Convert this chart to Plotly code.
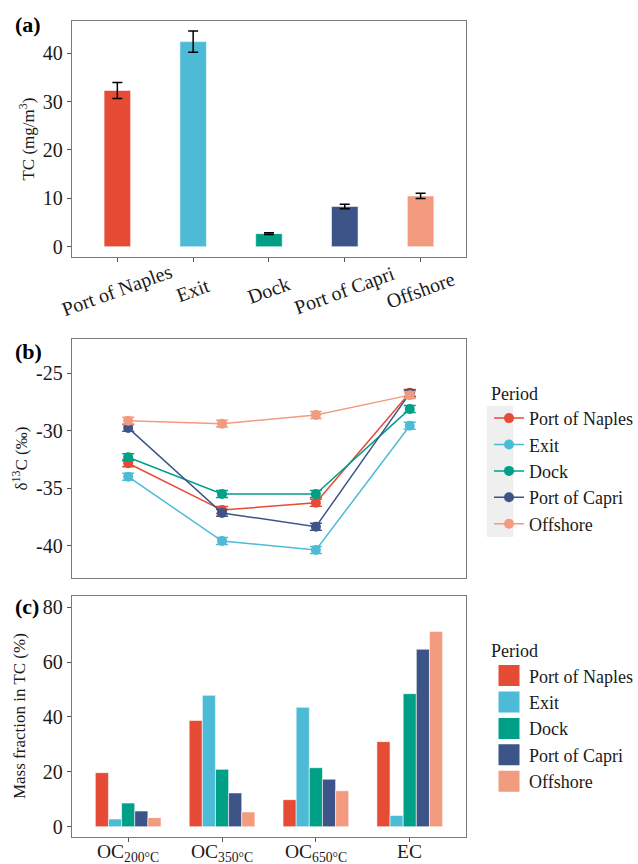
import plotly.graph_objects as go

# ---------------- data ----------------
stations = ["Port of Naples", "Exit", "Dock", "Port of Capri", "Offshore"]
tc_values = [32.3, 42.4, 2.7, 8.3, 10.5]
tc_errors = [1.65, 2.2, 0.2, 0.45, 0.55]

fractions = ["OC<sub>200°C</sub>", "OC<sub>350°C</sub>", "OC<sub>650°C</sub>", "EC"]

d13c_naples = [-32.83, -36.9, -36.26, -26.7]
d13c_exit = [-34.0, -39.6, -40.38, -29.56]
d13c_dock = [-32.3, -35.5, -35.5, -28.1]
d13c_capri = [-29.75, -37.15, -38.35, -26.75]
d13c_offshore = [-29.12, -29.38, -28.63, -26.9]
d13c_error = 0.3

mf_naples = [19.7, 38.7, 9.85, 31.0]
mf_exit = [2.8, 47.9, 43.5, 4.1]
mf_dock = [8.6, 20.9, 21.5, 48.5]
mf_capri = [5.7, 12.3, 17.3, 64.7]
mf_offshore = [3.3, 5.35, 13.1, 71.2]

colors = ["#E64B35", "#4DBBD5", "#00A087", "#3C5488", "#F39B7F"]

tc_ticks = [0, 10, 20, 30, 40]
d13c_ticks = [-25, -30, -35, -40]
d13c_ticktext = ["-25", "-30", "-35", "-40"]
mf_ticks = [0, 20, 40, 60, 80]

# ---------------- figure ----------------
W, H = 638, 864
FONT = "Liberation Serif"
fig = go.Figure()

def px_x(v):
    return v / W

def px_y(v):
    return 1 - v / H

# (a) bars
fig.add_trace(go.Bar(
    x=stations, y=tc_values, width=0.35,
    marker=dict(color=colors, line=dict(color="rgba(255,255,255,0.7)", width=0.8)),
    error_y=dict(type="data", array=tc_errors, color="black", thickness=1.5, width=5),
    xaxis="x", yaxis="y", showlegend=False,
))

# (b) lines
d13c_series = [d13c_naples, d13c_exit, d13c_dock, d13c_capri, d13c_offshore]
for name, vals, c in zip(stations, d13c_series, colors):
    fig.add_trace(go.Scatter(
        x=fractions, y=vals, mode="lines+markers", name=name,
        line=dict(color=c, width=1.5),
        marker=dict(color=c, size=10),
        error_y=dict(type="constant", value=d13c_error, color=c, thickness=1.5, width=6),
        xaxis="x2", yaxis="y2", legend="legend",
    ))

# (c) grouped bars
mf_series = [mf_naples, mf_exit, mf_dock, mf_capri, mf_offshore]
for name, vals, c in zip(stations, mf_series, colors):
    fig.add_trace(go.Bar(
        x=fractions, y=vals, name=name,
        marker=dict(color=c, line=dict(color="rgba(255,255,255,0.7)", width=0.8)),
        xaxis="x3", yaxis="y3", showlegend=False,
    ))
# legend keys for (c)
for name, c in zip(stations, colors):
    fig.add_trace(go.Scatter(
        x=[None], y=[None], mode="markers", name=name,
        marker=dict(symbol="square", size=16, color=c, line=dict(color=c, width=5)),
        xaxis="x3", yaxis="y3", legend="legend2",
    ))

xdom = [px_x(73), px_x(473.5)]
axis_common = dict(
    showline=True, mirror=True, linecolor="#7a7a7a", linewidth=1.2,
    showgrid=False, zeroline=False,
    tickfont=dict(family=FONT, size=20, color="#1a1a1a"),
    ticks="outside", ticklen=4, tickcolor="#555", tickwidth=1,
)
legend_font = dict(family=FONT, size=18, color="#1a1a1a")

fig.update_layout(
    width=W, height=H,
    margin=dict(l=0, r=0, t=0, b=0),
    paper_bgcolor="white", plot_bgcolor="white",
    font=dict(family=FONT, color="#1a1a1a"),
    barmode="group", bargap=0.3, bargroupgap=0,
    xaxis=dict(domain=xdom, anchor="y", type="category", categoryarray=stations,
               range=[-0.6, 4.6], showticklabels=False, **axis_common),
    yaxis=dict(domain=[px_y(256.7), px_y(21.3)], anchor="x", range=[-2.07, 46.6],
               tickvals=tc_ticks, **axis_common),
    xaxis2=dict(domain=xdom, anchor="y2", type="category", categoryarray=fractions,
                range=[-0.6, 3.6], showticklabels=False, **axis_common),
    yaxis2=dict(domain=[px_y(578.3), px_y(339.3)], anchor="x2", range=[-42.84, -22.04],
                tickvals=d13c_ticks, ticktext=d13c_ticktext, **axis_common),
    xaxis3=dict(domain=xdom, anchor="y3", type="category", categoryarray=fractions,
                range=[-0.6, 3.6], showticklabels=False, **axis_common),
    yaxis3=dict(domain=[px_y(836.7), px_y(596)], anchor="x3", range=[-3.65, 84.1],
                tickvals=mf_ticks, **axis_common),
    legend=dict(
        x=px_x(497), y=px_y(376.5), xanchor="left", yanchor="top",
        bgcolor="rgba(0,0,0,0)", font=legend_font,
        title=dict(text="Period", font=legend_font),
        itemsizing="trace",
    ),
    legend2=dict(
        x=px_x(497), y=px_y(634), xanchor="left", yanchor="top",
        bgcolor="rgba(0,0,0,0)", font=legend_font,
        title=dict(text="Period", font=legend_font),
        itemsizing="trace",
    ),
)
fig.update_layout(xaxis2=dict(ticks=""))

# grey background behind legend keys of (b)
fig.add_shape(type="rect", xref="paper", yref="paper",
              x0=px_x(494.5), x1=px_x(521.5), y0=px_y(537), y1=px_y(406),
              fillcolor="#EFEFEF", line=dict(width=0), layer="below")

annotations = []
# rotated station labels for (a)
for s in stations:
    annotations.append(dict(x=s, y=px_y(290), xref="x", yref="paper", text=s,
                            textangle=-20, showarrow=False, xanchor="center", yanchor="middle",
                            font=dict(family=FONT, size=20, color="#1a1a1a")))
# fraction labels for (c)
for f in fractions:
    annotations.append(dict(x=f, y=px_y(839), xref="x3", yref="paper", text=f,
                            showarrow=False, xanchor="center", yanchor="top",
                            font=dict(family=FONT, size=19.5, color="#1a1a1a")))
# panel labels
for lab, xx, yy in [("(a)", 28, 24), ("(b)", 29, 351), ("(c)", 27, 606)]:
    annotations.append(dict(x=px_x(xx), y=px_y(yy), xref="paper", yref="paper",
                            text="<b>" + lab + "</b>", showarrow=False,
                            xanchor="center", yanchor="middle",
                            font=dict(family=FONT, size=22, color="black")))
# y-axis titles
for txt, yref, xx in [("TC (mg/m<sup>3</sup>)", "y domain", 27),
                      ("δ<sup>13</sup>C (‰)", "y2 domain", 20),
                      ("Mass fraction in TC (%)", "y3 domain", 20)]:
    annotations.append(dict(x=px_x(xx), y=0.5, xref="paper", yref=yref, text=txt,
                            textangle=-90, showarrow=False, xanchor="center", yanchor="middle",
                            font=dict(family=FONT, size=17, color="#1a1a1a")))
fig.update_layout(annotations=annotations)

fig.write_html(
    "out.html",
    config={"displayModeBar": False},
    post_script="document.body.style.margin='0px';document.body.style.overflow='hidden';",
)
